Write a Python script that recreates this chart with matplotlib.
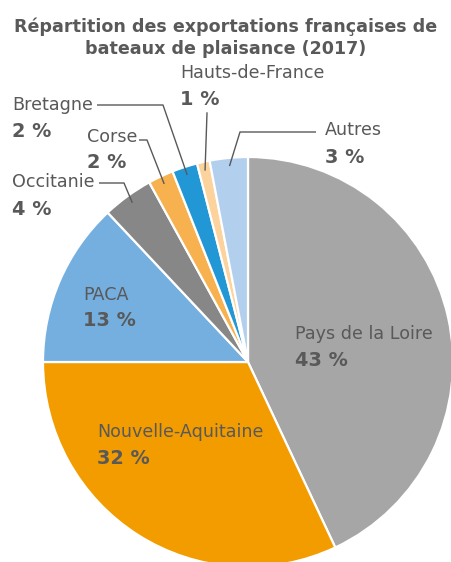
import numpy as np
import matplotlib
matplotlib.use("Agg")
import matplotlib.pyplot as plt

regions = ["Pays de la Loire", "Nouvelle-Aquitaine", "PACA", "Occitanie",
           "Corse", "Bretagne", "Hauts-de-France", "Autres"]
shares = [43, 32, 13, 4, 2, 2, 1, 3]
colors = ["#A6A6A6", "#F39C00", "#74AFDF", "#878787",
          "#F7B24F", "#2297D6", "#FCD39C", "#B2D0EE"]
title_lines = ["Répartition des exportations françaises de",
               "bateaux de plaisance (2017)"]

W, H = 452, 562
fig = plt.figure(figsize=(W / 100, H / 100), dpi=100)
ax = fig.add_axes([0, 0, 1, 1])

def Y(y):
    return H - y

cx, cy, R = 248, Y(362), 205
wedges, _ = ax.pie(shares, colors=colors, startangle=90, counterclock=False,
                   center=(cx, cy), radius=R, frame=True,
                   wedgeprops=dict(edgecolor="white", linewidth=1.6))
ax.set_xlim(0, W)
ax.set_ylim(0, H)
ax.set_aspect("equal")
ax.axis("off")

TXT = "#595959"
FAM = ["DejaVu Sans"]
renderer = fig.canvas.get_renderer()

def fitted_size(s, width, weight="normal"):
    t = fig.text(0, 0, s, fontsize=10, fontweight=weight, family=FAM)
    w = t.get_window_extent(renderer).width
    t.remove()
    return 10 * width / w

TS = fitted_size(title_lines[0], 422, "bold")
NS = fitted_size("Nouvelle-Aquitaine", 165)
BS = fitted_size("43 %", 53, "bold")

fig.text(0.5, 1 - 27 / H, title_lines[0], ha="center", va="center",
         fontsize=TS, fontweight="bold", color=TXT, family=FAM)
fig.text(0.5, 1 - 49 / H, title_lines[1], ha="center", va="center",
         fontsize=TS, fontweight="bold", color=TXT, family=FAM)

# inside labels (name, percent) with positions in px
inside = {0: (295, 334, 360), 1: (97, 432, 458), 2: (83, 295, 320)}
for i, (x, yn, yp) in inside.items():
    ax.text(x, Y(yn), regions[i], ha="left", va="center", fontsize=NS,
            color=TXT, family=FAM)
    ax.text(x, Y(yp), f"{shares[i]} %", ha="left", va="center", fontsize=BS,
            fontweight="bold", color=TXT, family=FAM)

def anchor(i, frac=0.96):
    w = wedges[i]
    a = np.deg2rad((w.theta1 + w.theta2) / 2)
    return cx + R * frac * np.cos(a), cy + R * frac * np.sin(a)

LC = "#595959"
outside = {
    3: dict(name=(12, 182), pct=(12, 209), start=(99, 183), elbow=(124, 183)),
    4: dict(name=(87, 137), pct=(87, 162), start=(139, 140), elbow=(147, 140)),
    5: dict(name=(12, 105), pct=(12, 131), start=(97, 105), elbow=(163, 105)),
    7: dict(name=(325, 130), pct=(325, 157), start=(316, 132), elbow=(240, 132)),
}
for i, d in outside.items():
    ax.text(d["name"][0], Y(d["name"][1]), regions[i], ha="left", va="center",
            fontsize=NS, color=TXT, family=FAM)
    ax.text(d["pct"][0], Y(d["pct"][1]), f"{shares[i]} %", ha="left", va="center",
            fontsize=BS, fontweight="bold", color=TXT, family=FAM)
    ax_, ay_ = anchor(i)
    ax.plot([d["start"][0], d["elbow"][0], ax_], [Y(d["start"][1]), Y(d["elbow"][1]), ay_],
            color=LC, lw=1.0, solid_capstyle="butt")

# Hauts-de-France
ax.text(180, Y(73), regions[6], ha="left", va="center", fontsize=NS, color=TXT, family=FAM)
ax.text(180, Y(99), f"{shares[6]} %", ha="left", va="center", fontsize=BS,
        fontweight="bold", color=TXT, family=FAM)
hx, hy = anchor(6)
ax.plot([207, hx], [Y(113), hy], color=LC, lw=1.0)

fig.savefig("out.png", dpi=100)
